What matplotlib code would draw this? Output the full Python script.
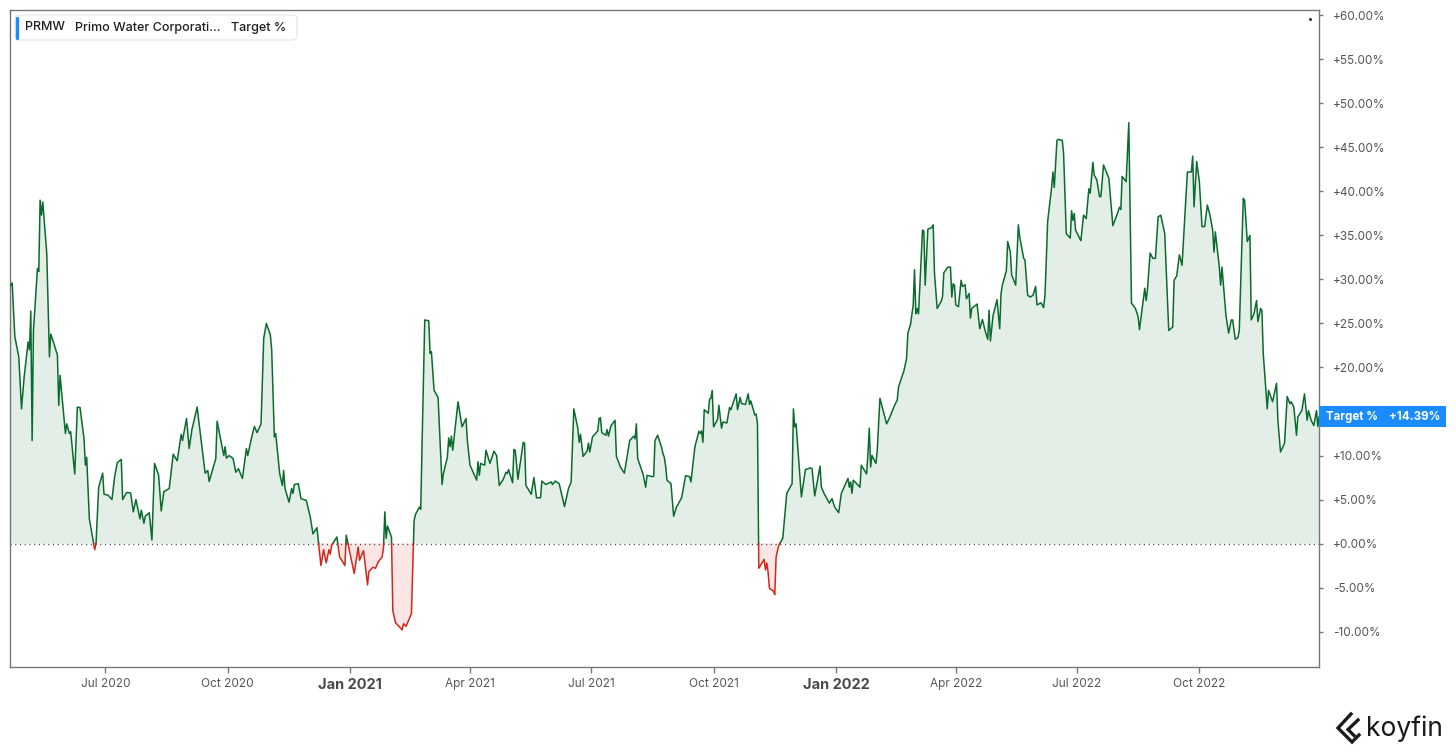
import numpy as np
import pandas as pd
import matplotlib
matplotlib.use("Agg")
import matplotlib.pyplot as plt
import matplotlib.dates as mdates
from matplotlib.patches import FancyBboxPatch, Rectangle
from matplotlib.lines import Line2D
from matplotlib.transforms import blended_transform_factory

plt.rcParams['font.family'] = ['Inter', 'DejaVu Sans']

# Target % (upside al precio objetivo) de PRMW
dates_2020 = [
    "04-21", "04-22", "04-24", "04-27", "04-29", "05-01", "05-04", "05-05", "05-06", "05-07",
    "05-08", "05-11", "05-12", "05-13", "05-14", "05-15", "05-18", "05-20", "05-21", "05-23",
    "05-26", "05-27", "05-28", "06-01", "06-02", "06-04", "06-05", "06-08", "06-10", "06-12",
    "06-15", "06-16", "06-17", "06-19", "06-22", "06-23", "06-24", "06-26", "06-29", "06-30",
    "07-03", "07-06", "07-08", "07-10", "07-13", "07-14", "07-17", "07-20", "07-22", "07-24",
    "07-27", "07-28", "07-30", "07-31", "08-03", "08-05", "08-07", "08-10", "08-12", "08-14",
    "08-18", "08-21", "08-24", "08-27", "08-28", "08-31", "09-02", "09-04", "09-08", "09-09",
    "09-14", "09-16", "09-17", "09-22", "09-23", "09-28", "09-29", "09-30", "10-02", "10-05",
    "10-07", "10-09", "10-12", "10-15", "10-16", "10-19", "10-21", "10-23", "10-26", "10-28",
    "10-30", "11-02", "11-03", "11-05", "11-06", "11-09", "11-11", "11-12", "11-13", "11-16",
    "11-18", "11-19", "11-20", "11-23", "11-25", "11-29", "12-02", "12-04", "12-07", "12-10",
    "12-12", "12-14", "12-16", "12-17", "12-18", "12-22", "12-24", "12-28", "12-29"]
pct_2020 = [
    29.35, 29.6, 23.5, 21.2, 15.3, 18.9, 22.9, 22.0, 26.4, 11.7,
    24.2, 31.25, 30.9, 39.0, 37.3, 38.8, 32.95, 21.2, 23.8, 22.9,
    21.4, 15.7, 19.1, 12.5, 13.6, 12.5, 12.7, 7.9, 15.5, 15.45,
    11.9, 8.9, 9.8, 2.8, 0.2, -0.7, 0.0, 6.4, 8.0, 5.6,
    5.5, 5.0, 7.6, 9.2, 9.55, 5.0, 5.8, 5.75, 3.6, 5.0,
    2.8, 3.8, 2.3, 3.1, 3.5, 0.4, 9.1, 7.8, 3.7, 5.9,
    6.25, 10.15, 9.4, 12.4, 11.7, 14.2, 10.8, 12.9, 15.5, 14.2,
    8.0, 8.3, 7.05, 9.65, 13.9, 10.0, 11.0, 9.7, 10.0, 9.65,
    8.1, 8.5, 7.4, 10.8, 10.0, 12.1, 13.3, 12.6, 13.6, 23.3,
    25.0, 23.7, 22.0, 12.1, 12.5, 7.95, 6.6, 8.3, 6.25, 4.7,
    6.25, 5.7, 6.7, 6.8, 5.1, 4.9, 3.0, 1.1, 1.8, -2.5,
    -0.7, -2.2, -0.7, -1.2, -0.2, 0.75, -1.5, -2.5, 0.95]

dates_2021 = [
    "01-04", "01-07", "01-08", "01-11", "01-14", "01-15", "01-18", "01-20", "01-22", "01-25",
    "01-26", "01-27", "01-28", "01-29", "02-01", "02-02", "02-04", "02-06", "02-09", "02-10",
    "02-12", "02-16", "02-18", "02-19", "02-22", "02-23", "02-24", "02-26", "03-01", "03-02",
    "03-03", "03-05", "03-08", "03-11", "03-12", "03-15", "03-16", "03-17", "03-18", "03-19",
    "03-23", "03-26", "03-29", "03-30", "04-01", "04-06", "04-07", "04-08", "04-09", "04-12",
    "04-13", "04-16", "04-19", "04-21", "04-23", "04-26", "04-28", "04-29", "04-30", "05-03",
    "05-04", "05-05", "05-07", "05-11", "05-12", "05-13", "05-17", "05-19", "05-21", "05-24",
    "05-25", "05-28", "06-01", "06-02", "06-04", "06-07", "06-09", "06-11", "06-14", "06-16",
    "06-18", "06-21", "06-22", "06-23", "06-25", "06-28", "06-29", "06-30", "07-02", "07-06",
    "07-07", "07-08", "07-09", "07-12", "07-13", "07-14", "07-16", "07-19", "07-20", "07-23",
    "07-26", "07-30", "08-02", "08-03", "08-04", "08-05", "08-09", "08-11", "08-12", "08-16",
    "08-17", "08-18", "08-20", "08-23", "08-24", "08-25", "08-26", "08-27", "08-30", "09-01",
    "09-03", "09-07", "09-10", "09-13", "09-14", "09-17", "09-20", "09-21", "09-22", "09-23",
    "09-24", "09-27", "09-28", "09-29", "09-30", "10-01", "10-04", "10-05", "10-07", "10-08",
    "10-11", "10-13", "10-14", "10-18", "10-19", "10-21", "10-22", "10-25", "10-27", "10-28",
    "10-29", "11-01", "11-02", "11-03", "11-04", "11-08", "11-09", "11-10", "11-11", "11-12",
    "11-15", "11-16", "11-17", "11-19", "11-22", "11-23", "11-25", "11-29", "11-30", "12-01",
    "12-02", "12-06", "12-09", "12-13", "12-14", "12-16", "12-20", "12-21", "12-23", "12-27",
    "12-29", "12-31"]
pct_2021 = [
    -3.4, -0.4, -1.9, -0.8, -4.7, -3.2, -2.7, -2.8, -2.1, -1.5,
    -0.45, 3.6, 0.6, 2.0, 0.75, -7.6, -9.0, -9.3, -9.8, -9.1,
    -9.4, -7.95, 2.6, 3.3, 4.15, 3.9, 11.4, 25.4, 25.3, 21.6,
    21.8, 17.4, 16.6, 6.7, 7.95, 9.8, 12.0, 11.0, 12.2, 10.6,
    16.1, 13.25, 14.2, 11.7, 8.9, 7.2, 9.3, 7.75, 9.1, 8.9,
    10.6, 9.1, 10.5, 10.0, 6.6, 7.3, 8.1, 7.95, 8.4, 6.9,
    10.7, 10.6, 7.3, 11.5, 11.4, 6.6, 5.6, 7.5, 5.2, 5.2,
    7.1, 6.7, 7.0, 6.7, 7.1, 6.8, 5.5, 4.2, 6.25, 7.0,
    15.3, 13.1, 11.5, 12.4, 9.9, 10.5, 11.4, 10.4, 12.1, 12.8,
    14.2, 14.3, 12.6, 12.3, 12.95, 12.2, 13.4, 14.0, 9.9, 8.7,
    8.0, 11.7, 12.2, 11.9, 13.6, 9.65, 7.9, 6.4, 7.75, 7.6,
    7.65, 11.7, 12.3, 10.9, 10.2, 9.8, 8.8, 7.2, 6.8, 3.1,
    4.1, 5.2, 7.7, 7.6, 7.0, 11.0, 12.75, 12.5, 12.8, 11.5,
    15.2, 14.8, 16.4, 16.5, 17.4, 13.25, 14.1, 15.7, 13.1, 13.8,
    13.7, 15.45, 15.2, 17.0, 15.2, 16.6, 15.9, 15.8, 17.0, 15.8,
    16.2, 14.6, 14.7, 13.6, -2.8, -1.8, -3.0, -2.2, -3.3, -5.1,
    -5.4, -5.8, -1.5, -0.2, 0.6, 2.3, 5.7, 6.8, 15.3, 13.25,
    13.6, 5.3, 8.4, 8.6, 8.5, 5.4, 8.8, 6.4, 5.7, 4.6,
    5.1, 4.15]

dates_2022 = [
    "01-03", "01-05", "01-10", "01-11", "01-12", "01-13", "01-14", "01-19", "01-20", "01-24",
    "01-25", "01-26", "01-27", "01-28", "01-31", "02-01", "02-03", "02-08", "02-10", "02-14",
    "02-16", "02-17", "02-21", "02-23", "02-24", "02-26", "02-28", "03-01", "03-02", "03-03",
    "03-04", "03-07", "03-08", "03-09", "03-11", "03-14", "03-15", "03-16", "03-18", "03-21",
    "03-22", "03-23", "03-26", "03-28", "03-29", "03-30", "03-31", "04-01", "04-03", "04-05",
    "04-06", "04-08", "04-09", "04-11", "04-12", "04-13", "04-17", "04-19", "04-21", "04-23",
    "04-25", "04-26", "04-27", "04-29", "05-02", "05-04", "05-05", "05-06", "05-09", "05-10",
    "05-12", "05-13", "05-16", "05-18", "05-19", "05-22", "05-23", "05-25", "05-27", "05-29",
    "05-31", "06-01", "06-04", "06-06", "06-07", "06-08", "06-09", "06-12", "06-13", "06-14",
    "06-16", "06-17", "06-20", "06-21", "06-23", "06-26", "06-27", "06-28", "06-29", "06-30",
    "07-04", "07-06", "07-08", "07-10", "07-11", "07-13", "07-14", "07-16", "07-18", "07-19",
    "07-21", "07-25", "07-28", "07-31", "08-02", "08-03", "08-04", "08-07", "08-09", "08-11",
    "08-14", "08-16", "08-17", "08-21", "08-22", "08-23", "08-25", "08-27", "08-29", "08-31",
    "09-02", "09-05", "09-08", "09-11", "09-12", "09-14", "09-16", "09-18", "09-22", "09-25",
    "09-26", "09-27", "09-29", "10-01", "10-03", "10-05", "10-07", "10-09", "10-11", "10-12",
    "10-13", "10-16", "10-17", "10-18", "10-21", "10-23", "10-25", "10-26", "10-28", "10-30",
    "10-31", "11-03", "11-04", "11-06", "11-08", "11-09", "11-11", "11-13", "11-14", "11-16",
    "11-17", "11-18", "11-21", "11-22", "11-25", "11-28", "11-29", "12-01", "12-04", "12-06",
    "12-08", "12-09", "12-11", "12-13", "12-14", "12-17", "12-19", "12-21", "12-22", "12-24",
    "12-26", "12-28", "12-29", "12-30"]
pct_2022 = [
    3.5, 5.7, 7.4, 6.4, 7.0, 5.7, 7.2, 6.4, 8.9, 7.9,
    10.2, 13.1, 8.7, 10.0, 9.1, 10.6, 16.5, 13.6, 14.2, 15.7,
    16.3, 17.8, 19.6, 21.0, 23.9, 24.9, 27.1, 31.1, 26.1, 26.7,
    26.1, 35.6, 35.5, 29.35, 35.7, 35.9, 36.2, 30.7, 26.7, 27.5,
    28.0, 30.75, 31.4, 31.4, 28.0, 29.5, 29.35, 27.1, 26.9, 29.9,
    29.2, 29.4, 27.8, 28.4, 25.6, 26.7, 27.2, 24.4, 25.45, 24.2,
    23.2, 26.5, 23.0, 25.9, 27.7, 24.4, 28.4, 29.35, 31.0, 34.3,
    33.1, 30.5, 29.35, 36.2, 34.85, 32.4, 32.2, 28.2, 28.0, 28.2,
    29.2, 27.1, 27.35, 26.8, 28.2, 32.2, 36.55, 40.45, 42.2, 40.45,
    45.8, 45.9, 45.8, 44.3, 35.2, 34.7, 37.8, 36.7, 37.5, 35.6,
    34.4, 37.3, 36.9, 40.3, 39.8, 43.3, 41.85, 41.3, 39.4, 39.4,
    43.0, 41.5, 36.1, 37.3, 38.2, 37.95, 41.7, 41.1, 47.8, 27.3,
    26.7, 25.75, 24.3, 29.0, 27.6, 28.8, 33.0, 32.4, 32.4, 37.1,
    37.3, 35.2, 24.2, 24.6, 29.9, 30.4, 32.8, 31.6, 42.2, 42.2,
    44.0, 38.25, 43.4, 41.1, 36.0, 36.0, 38.45, 37.3, 35.6, 33.1,
    35.4, 31.4, 29.35, 31.4, 25.9, 23.9, 25.4, 25.4, 23.2, 23.4,
    24.2, 39.2, 39.0, 34.3, 35.0, 25.4, 26.1, 27.6, 25.2, 26.7,
    26.5, 21.6, 15.3, 17.4, 16.1, 18.2, 14.0, 10.4, 11.4, 16.7,
    15.9, 16.1, 15.5, 12.3, 14.4, 15.1, 17.0, 14.0, 15.1, 14.0,
    13.4, 15.1, 13.3, 14.39]

x_tick_dates = ["2020-07-01", "2020-10-01", "2021-01-01", "2021-04-01", "2021-07-01",
                "2021-10-01", "2022-01-01", "2022-04-01", "2022-07-01", "2022-10-01"]
x_tick_labels = ["Jul 2020", "Oct 2020", "Jan 2021", "Apr 2021", "Jul 2021",
                 "Oct 2021", "Jan 2022", "Apr 2022", "Jul 2022", "Oct 2022"]
# +15% queda tapado por la etiqueta azul, como en el original
y_ticks = [-10, -5, 0, 5, 10, 20, 25, 30, 35, 40, 45, 50, 55, 60]

ticker = "PRMW"
company = "Primo Water Corporati..."
series_name = "Target %"

VERDE = "#0b6b2e"
ROJO = "#d3271c"
RELLENO_VERDE = "#e3efe6"
RELLENO_ROJO = "#fbe6e5"
AZUL = "#1a8cff"
GRIS = "#555555"

fechas = pd.to_datetime([f"2020-{d}" for d in dates_2020] +
                        [f"2021-{d}" for d in dates_2021] +
                        [f"2022-{d}" for d in dates_2022])
valores = np.array(pct_2020 + pct_2021 + pct_2022, dtype=float)
x = mdates.date2num(fechas.to_pydatetime())

# mete los cruces por cero para que el color cambie justo en la linea de 0
xs, ys = [x[0]], [valores[0]]
for i in range(1, len(x)):
    y0, y1 = valores[i - 1], valores[i]
    if y0 * y1 < 0:
        t = y0 / (y0 - y1)
        xs.append(x[i - 1] + t * (x[i] - x[i - 1]))
        ys.append(0.0)
    xs.append(x[i])
    ys.append(y1)
xs = np.array(xs)
ys = np.array(ys)

fig = plt.figure(figsize=(14.56, 7.52), dpi=100)
W, H = 1456, 752
ax = fig.add_axes([10 / W, 1 - 667 / H, 1309.3 / W, 657 / H])

ax.fill_between(xs, ys, 0, where=ys >= 0, color=RELLENO_VERDE, lw=0, zorder=1)
ax.fill_between(xs, ys, 0, where=ys <= 0, color=RELLENO_ROJO, lw=0, zorder=1)
ax.axhline(0, color="#444444", lw=1.0, ls=(0, (0.8, 2.6)), zorder=2)
ax.plot(xs, np.where(ys >= 0, ys, np.nan), color=VERDE, lw=1.1, zorder=3)
ax.plot(xs, np.where(ys <= 0, ys, np.nan), color=ROJO, lw=1.1, zorder=3)

ax.set_xlim(mdates.date2num(pd.Timestamp("2020-04-20 09:00")),
            mdates.date2num(pd.Timestamp("2022-12-30 03:00")))
ax.set_ylim(-14.02, 60.6)

# eje y a la derecha
ax.yaxis.tick_right()
ax.set_yticks(y_ticks)
ax.set_yticklabels([f"{v:+.2f}%" for v in y_ticks])
ax.tick_params(axis="y", length=3, width=1, color="#777777", labelcolor=GRIS,
               labelsize=8.5, pad=7)

ax.set_xticks(mdates.date2num(pd.to_datetime(x_tick_dates).to_pydatetime()))
ax.set_xticklabels(x_tick_labels)
ax.tick_params(axis="x", length=4, width=1, color="#777777", labelcolor=GRIS,
               labelsize=8.5, pad=4)
for lab in ax.get_xticklabels():
    if lab.get_text().startswith("Jan"):
        lab.set_fontweight("bold")
        lab.set_fontsize(10.5)
        lab.set_color("#4a4a4a")

for s in ax.spines.values():
    s.set_color("#777777")
    s.set_linewidth(1.0)


def fx(px):
    return px / W


def fy(py):
    return 1 - py / H


# recuadro de la leyenda arriba a la izquierda
caja = FancyBboxPatch((fx(15), fy(40)), fx(282), 25 / H,
                      boxstyle="round,pad=0,rounding_size=0.003",
                      mutation_aspect=W / H, transform=fig.transFigure,
                      fc="white", ec="#e4e4e4", lw=0.8, zorder=5)
fig.patches.append(caja)
fig.lines.append(Line2D([fx(17), fx(17)], [fy(18), fy(37.5)], transform=fig.transFigure,
                        color=AZUL, lw=2.4, solid_capstyle="round", zorder=6))
for texto, px in [(ticker, 25), (company, 75), (series_name, 231)]:
    fig.text(fx(px), fy(27.5), texto, fontsize=9, fontweight="medium", color="#1f1f1f",
             va="center", ha="left", zorder=7)

# etiqueta azul con el ultimo valor en el eje
ultimo = valores[-1]
tr = blended_transform_factory(ax.transAxes, ax.transData)
alto = 21 / (657 / (60.6 + 14.02))
ancho = 127 / 1309.3
ax.add_patch(Rectangle((1.0, ultimo - alto / 2), ancho, alto, transform=tr,
                       fc=AZUL, ec="none", clip_on=False, zorder=6))
ax.text(1.0 + 7 / 1309.3, ultimo, series_name, transform=tr, color="white",
        fontsize=8.3, fontweight="bold", va="center", ha="left", clip_on=False, zorder=7)
ax.text(1.0 + 121 / 1309.3, ultimo, f"{ultimo:+.2f}%", transform=tr, color="white",
        fontsize=8.3, fontweight="bold", va="center", ha="right", clip_on=False, zorder=7)

# puntito suelto arriba a la derecha
fig.lines.append(Line2D([fx(1310)], [fy(19)], transform=fig.transFigure, marker="o",
                        ms=1.2, color="#333333", lw=0))

# marca de koyfin abajo a la derecha
fig.lines.append(Line2D([fx(1351), fx(1338), fx(1352), fx(1359)],
                        [fy(714), fy(728), fy(742), fy(735)],
                        transform=fig.transFigure, color="#1a1a1a", lw=2.4,
                        solid_joinstyle="miter"))
fig.lines.append(Line2D([fx(1358), fx(1348), fx(1354)], [fy(720), fy(729.5), fy(735.5)],
                        transform=fig.transFigure, color="#1a1a1a", lw=2.4,
                        solid_joinstyle="miter"))
fig.text(fx(1366), fy(736.5), "koyfin", fontsize=19, color="#1a1a1a",
         ha="left", va="baseline")

fig.savefig("out.png", dpi=100)
